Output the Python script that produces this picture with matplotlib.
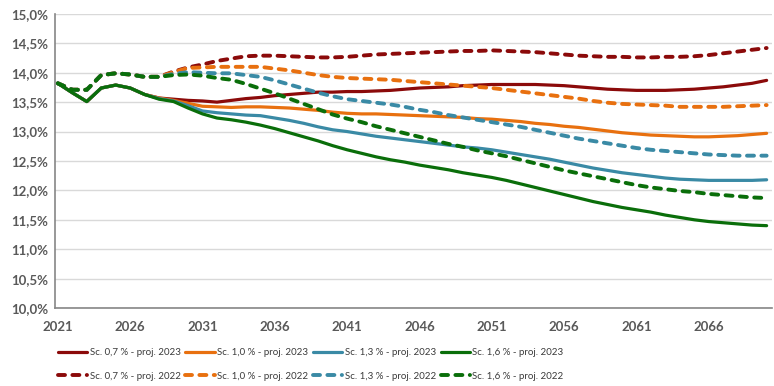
import matplotlib
matplotlib.use("Agg")
import matplotlib.pyplot as plt
from matplotlib.ticker import FuncFormatter

years = list(range(2021, 2071))

sc07_2023 = [13.82, 13.66, 13.51, 13.74, 13.79, 13.74, 13.63, 13.57, 13.55, 13.53,
             13.52, 13.50, 13.53, 13.56, 13.58, 13.61, 13.63, 13.65, 13.67, 13.67,
             13.68, 13.68, 13.69, 13.70, 13.72, 13.74, 13.75, 13.76, 13.78, 13.79,
             13.80, 13.80, 13.80, 13.80, 13.79, 13.78, 13.76, 13.74, 13.72, 13.71,
             13.70, 13.70, 13.70, 13.71, 13.72, 13.74, 13.76, 13.79, 13.82, 13.87]
sc10_2023 = [13.82, 13.66, 13.51, 13.74, 13.79, 13.74, 13.63, 13.57, 13.53, 13.48,
             13.43, 13.42, 13.41, 13.42, 13.42, 13.41, 13.40, 13.38, 13.36, 13.33,
             13.31, 13.30, 13.30, 13.29, 13.28, 13.27, 13.26, 13.25, 13.24, 13.22,
             13.21, 13.19, 13.17, 13.14, 13.12, 13.09, 13.07, 13.04, 13.01, 12.98,
             12.96, 12.94, 12.93, 12.92, 12.91, 12.91, 12.92, 12.93, 12.95, 12.97]
sc13_2023 = [13.82, 13.66, 13.51, 13.74, 13.79, 13.74, 13.63, 13.56, 13.52, 13.44,
             13.35, 13.32, 13.30, 13.28, 13.27, 13.23, 13.19, 13.14, 13.08, 13.03,
             13.00, 12.96, 12.92, 12.89, 12.86, 12.83, 12.80, 12.77, 12.74, 12.72,
             12.69, 12.65, 12.61, 12.57, 12.53, 12.48, 12.43, 12.38, 12.34, 12.30,
             12.27, 12.24, 12.21, 12.19, 12.18, 12.17, 12.17, 12.17, 12.17, 12.18]
sc16_2023 = [13.82, 13.66, 13.51, 13.74, 13.79, 13.74, 13.63, 13.55, 13.51, 13.40,
             13.30, 13.23, 13.20, 13.16, 13.11, 13.05, 12.98, 12.91, 12.84, 12.76,
             12.69, 12.63, 12.57, 12.52, 12.48, 12.43, 12.39, 12.35, 12.30, 12.26,
             12.22, 12.17, 12.11, 12.05, 11.99, 11.93, 11.87, 11.81, 11.76, 11.71,
             11.67, 11.63, 11.58, 11.54, 11.50, 11.47, 11.45, 11.43, 11.41, 11.40]

sc07_2022 = [13.82, 13.71, 13.71, 13.96, 13.99, 13.97, 13.93, 13.93, 14.02, 14.09,
             14.14, 14.20, 14.24, 14.28, 14.29, 14.29, 14.28, 14.27, 14.26, 14.26,
             14.27, 14.29, 14.31, 14.32, 14.33, 14.34, 14.35, 14.36, 14.37, 14.37,
             14.38, 14.37, 14.36, 14.35, 14.33, 14.31, 14.29, 14.28, 14.27, 14.27,
             14.26, 14.26, 14.27, 14.27, 14.28, 14.30, 14.33, 14.36, 14.39, 14.42]
sc10_2022 = [13.82, 13.71, 13.71, 13.96, 13.99, 13.97, 13.93, 13.93, 14.01, 14.08,
             14.09, 14.10, 14.10, 14.10, 14.10, 14.07, 14.04, 14.00, 13.96, 13.93,
             13.91, 13.90, 13.89, 13.88, 13.86, 13.84, 13.82, 13.80, 13.78, 13.76,
             13.74, 13.71, 13.68, 13.65, 13.62, 13.59, 13.56, 13.52, 13.49, 13.47,
             13.46, 13.45, 13.44, 13.42, 13.42, 13.42, 13.42, 13.43, 13.44, 13.45]
sc13_2022 = [13.82, 13.71, 13.71, 13.96, 13.99, 13.97, 13.93, 13.93, 13.98, 14.01,
             14.00, 13.99, 13.99, 13.96, 13.93, 13.87, 13.80, 13.73, 13.66, 13.60,
             13.55, 13.52, 13.49, 13.46, 13.42, 13.37, 13.33, 13.28, 13.24, 13.20,
             13.16, 13.12, 13.08, 13.03, 12.98, 12.93, 12.88, 12.84, 12.80, 12.76,
             12.72, 12.69, 12.67, 12.65, 12.63, 12.61, 12.60, 12.59, 12.59, 12.59]
sc16_2022 = [13.82, 13.71, 13.71, 13.96, 13.99, 13.97, 13.93, 13.93, 13.96, 13.97,
             13.95, 13.91, 13.88, 13.81, 13.73, 13.65, 13.56, 13.47, 13.38, 13.29,
             13.22, 13.16, 13.09, 13.03, 12.97, 12.91, 12.85, 12.79, 12.74, 12.68,
             12.63, 12.58, 12.52, 12.46, 12.40, 12.34, 12.29, 12.24, 12.19, 12.14,
             12.09, 12.05, 12.02, 11.99, 11.97, 11.94, 11.92, 11.90, 11.88, 11.87]

labels_2023 = ["Sc. 0,7 % - proj. 2023", "Sc. 1,0 % - proj. 2023",
               "Sc. 1,3 % - proj. 2023", "Sc. 1,6 % - proj. 2023"]
labels_2022 = ["Sc. 0,7 % - proj. 2022", "Sc. 1,0 % - proj. 2022",
               "Sc. 1,3 % - proj. 2022", "Sc. 1,6 % - proj. 2022"]
colors = ["#8B0A0A", "#E8700F", "#3A8AA5", "#0A6E0A"]
xtick_years = [2021, 2026, 2031, 2036, 2041, 2046, 2051, 2056, 2061, 2066]

plt.rcParams['font.family'] = ['Lato', 'DejaVu Sans']

fig = plt.figure(figsize=(7.74, 3.86), dpi=100)
ax = fig.add_axes([0.071, 0.202, 0.926, 0.762])

series_2023 = [sc07_2023, sc10_2023, sc13_2023, sc16_2023]
series_2022 = [sc07_2022, sc10_2022, sc13_2022, sc16_2022]

handles = []
for s23, s22, c, l23, l22 in zip(series_2023, series_2022, colors, labels_2023, labels_2022):
    h1, = ax.plot(years, s23, color=c, lw=2.3, label=l23, solid_capstyle='round', zorder=3)
    h2, = ax.plot(years, s22, color=c, lw=2.8, label=l22, dashes=(1.8, 1.9),
                  dash_capstyle='round', zorder=3)
    handles += [h1, h2]

ax.set_ylim(10.0, 15.0)
ax.set_xlim(2020.8, 2070.35)
ax.set_yticks([10.0 + 0.5 * i for i in range(11)])
ax.yaxis.set_major_formatter(FuncFormatter(lambda v, p: f"{v:.1f}%".replace('.', ',')))
ax.set_xticks(xtick_years)
ax.grid(axis='y', color='#D9D9D9', lw=1.0, zorder=0)
ax.grid(axis='x', visible=False)
for sp in ['top', 'right']:
    ax.spines[sp].set_visible(False)
for sp in ['left', 'bottom']:
    ax.spines[sp].set_color('#868686')
    ax.spines[sp].set_linewidth(1.2)
ax.tick_params(axis='y', length=0, labelsize=9.5, colors='#595959', pad=5)
ax.tick_params(axis='x', length=0, labelsize=9.5, colors='#595959', pad=9)
for t in ax.get_xticklabels() + ax.get_yticklabels():
    t.set_fontweight('bold')

leg = fig.legend(handles=handles, labels=[h.get_label() for h in handles], ncol=4,
                 loc='center left', bbox_to_anchor=(58 / 774, 1 - 364.5 / 386),
                 frameon=False, fontsize=7.0, handlelength=3.0, handletextpad=0.25,
                 columnspacing=0.5, labelspacing=1.5, borderaxespad=0, borderpad=0)
for t in leg.get_texts():
    t.set_color('#3A3A3A')

fig.savefig("out.png", dpi=100)
